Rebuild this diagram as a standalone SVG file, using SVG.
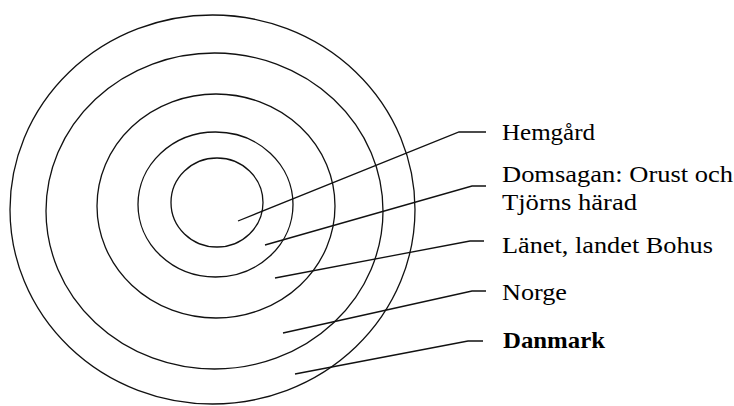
<svg xmlns="http://www.w3.org/2000/svg" width="734" height="406" viewBox="0 0 734 406">
<style>
.ring{fill:none;stroke:#111;stroke-width:1.3}
.conn{fill:none;stroke:#111;stroke-width:1.3}
text{font-family:"Liberation Serif","Times New Roman",serif;font-size:22.5px;fill:#000}
.b{font-weight:bold}
</style>
<rect width="734" height="406" fill="#fff"/>
<g id="rings">
<ellipse id="ring-danmark" class="ring" cx="212.5" cy="209.5" rx="202.5" ry="194.5"/>
<ellipse id="ring-norge" class="ring" cx="214.5" cy="211" rx="168.5" ry="158"/>
<ellipse id="ring-lanet" class="ring" cx="216" cy="206" rx="119" ry="112"/>
<ellipse id="ring-domsagan" class="ring" cx="215.5" cy="204.5" rx="77.5" ry="72.5"/>
<ellipse id="ring-hemgard" class="ring" cx="217" cy="202.5" rx="46" ry="44.5"/>
</g>
<g id="connectors">
<polyline class="conn" points="238,221 459,132 486,132"/>
<polyline class="conn" points="265,245 472,186 486,186"/>
<polyline class="conn" points="275,278 470,241 484,241"/>
<polyline class="conn" points="283,333 472,291 486,291"/>
<polyline class="conn" points="295,374 468,341 483,341"/>
</g>
<g id="label-hemgard"><text x="502" y="140" textLength="93" lengthAdjust="spacingAndGlyphs">Hemgård</text></g>
<g id="label-domsagan">
<text x="502" y="182" textLength="231" lengthAdjust="spacingAndGlyphs">Domsagan: Orust och</text>
<text x="502" y="210" textLength="135" lengthAdjust="spacingAndGlyphs">Tjörns härad</text>
</g>
<g id="label-lanet"><text x="502" y="253" textLength="211" lengthAdjust="spacingAndGlyphs">Länet, landet Bohus</text></g>
<g id="label-norge"><text x="502" y="300" textLength="65" lengthAdjust="spacingAndGlyphs">Norge</text></g>
<g id="label-danmark"><text class="b" x="503" y="348" textLength="102" lengthAdjust="spacingAndGlyphs">Danmark</text></g>
</svg>
